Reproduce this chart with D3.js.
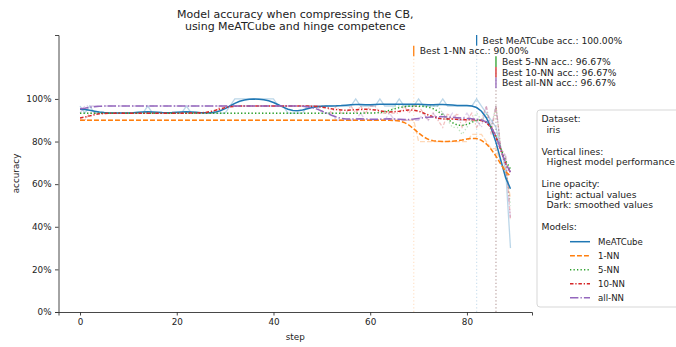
<!DOCTYPE html>
<html><head><meta charset="utf-8">
<script src="https://cdn.jsdelivr.net/npm/d3@7"></script>
<style>body{margin:0;background:#fff} svg{display:block;font-family:"DejaVu Sans",sans-serif}</style>
</head><body><svg id="c" width="676" height="347"></svg>
<script>
// ---------------- data ----------------
const steps = d3.range(0, 90);

const accMeATCube = [
 .9667,.9333,.9667,.9333,.9333,.9333,.9333,.9333,.9333,.9333,
 .9333,.9333,.9333,.9333,.9667,.9333,.9333,.9333,.9333,.9333,
 .9333,.9333,.9667,.9333,.9333,.9333,.9333,.9333,.9333,.9333,
 .9333,.9667,1,1,1,1,1,1,1,1,
 1,.9667,.9667,.9333,.9333,.9333,.9333,.9667,.9667,.9667,
 .9667,.9667,.9667,.9667,.9667,.9667,.9667,1,.9667,.9667,
 .9667,.9667,1,.9667,.9667,.9667,1,.9667,.9667,.9667,
 1,.9667,.9667,.9667,.9667,1,.9667,.9667,.9667,.9667,
 .9667,.9667,1,.9667,.9333,.9,.8667,.7667,.6667,.3
];
const acc1NN = [
 .9,.9,.9,.9,.9,.9,.9,.9,.9,.9,
 .9,.9,.9,.9,.9,.9,.9,.9,.9,.9,
 .9,.9,.9,.9,.9,.9,.9,.9,.9,.9,
 .9,.9,.9,.9,.9,.9,.9,.9,.9,.9,
 .9,.9,.9,.9,.9,.9,.9,.9,.9,.9,
 .9,.9,.9,.9,.9,.9,.9,.9,.9,.9,
 .9,.9,.9,.9,.9,.9,.9,.9,.9,.9,
 .8,.8,.8,.8,.8,.8,.8,.8,.8,.8,
 .8,.8333,.8333,.8333,.8,.7667,.7667,.7,.6667,.5333
];
const acc5NN = [
 .9333,.9333,.9333,.9333,.9333,.9333,.9333,.9333,.9333,.9333,
 .9333,.9333,.9333,.9333,.9333,.9333,.9333,.9333,.9333,.9333,
 .9333,.9333,.9333,.9333,.9333,.9333,.9333,.9333,.9333,.9333,
 .9333,.9333,.9333,.9333,.9333,.9333,.9333,.9333,.9333,.9333,
 .9333,.9333,.9333,.9333,.9333,.9333,.9333,.9333,.9333,.9333,
 .9333,.9333,.9333,.9333,.9333,.9333,.9333,.9333,.9333,.9333,
 .9333,.9333,.9333,.9333,.9333,.9667,.9667,.9667,.9667,.9667,
 .9667,.9667,.9667,.9667,.9667,.9333,.9,.8667,.8667,.8333,
 .8667,.9,.9333,.9,.9333,.8667,.9667,.7667,.7,.5
];
const acc10NN = [
 .9,.9,.9333,.9333,.9333,.9333,.9333,.9333,.9333,.9333,
 .9333,.9333,.9333,.9333,.9333,.9333,.9333,.9333,.9333,.9333,
 .9333,.9333,.9333,.9333,.9333,.9333,.9333,.9333,.9333,.9667,
 .9667,.9667,.9667,.9667,.9667,.9667,.9667,.9667,.9667,.9667,
 .9667,.9667,.9667,.9667,.9667,.9667,.9667,.9667,.9667,.9667,
 .9667,.9667,.9333,.9667,.9333,.9333,.9667,.9333,.9667,.9333,
 .9667,.9667,.9333,.9333,.9333,.9333,.9333,.9667,.9333,.9667,
 .9667,.9333,.9,.9333,.9,.8667,.9333,.9,.9333,.8667,
 .9,.9333,.8667,.9,.9667,.8333,.9667,.7667,.7333,.4333
];
const accAllNN = [
 .9333,.9667,.9667,.9667,.9667,.9667,.9667,.9667,.9667,.9667,
 .9667,.9667,.9667,.9667,.9667,.9667,.9667,.9667,.9667,.9667,
 .9667,.9667,.9667,.9667,.9667,.9667,.9667,.9667,.9667,.9667,
 .9667,.9667,.9667,.9667,.9667,.9667,.9667,.9667,.9667,.9667,
 .9667,.9667,.9667,.9667,.9667,.9667,.9667,.9667,.9667,.9667,
 .9333,.9333,.9333,.9,.9,.9,.9,.9,.9333,.9,
 .9,.9,.9,.9,.9333,.9,.9,.9,.9,.9,
 .9,.9333,.9,.9333,.9,.9333,.9,.9333,.9,.9,
 .9333,.9,.9,.8667,.9667,.8667,.9667,.7667,.7333,.4333
];

const modelNames  = ["MeATCube", "1-NN", "5-NN", "10-NN", "all-NN"];
const modelValues = [accMeATCube, acc1NN, acc5NN, acc10NN, accAllNN];
const modelColors = ["#1f77b4", "#ff7f0e", "#2ca02c", "#d62728", "#9467bd"];
const modelDashes = [null, "4.9,2.1", "1.3,2.2", "3.5,1.8,1.3,1.8", "8.4,2.1,1.3,2.1"];

const xTickValues = [0, 20, 40, 60, 80];
const yTickValues = [0, 0.2, 0.4, 0.6, 0.8, 1.0];
const titleLines = ["Model accuracy when compressing the CB,", "using MeATCube and hinge competence"];
const xLabel = "step";
const yLabel = "accuracy";
const legendInfo = [
  ["Dataset:", 0], ["iris", 1], ["", 0],
  ["Vertical lines:", 0], ["Highest model performance", 1], ["", 0],
  ["Line opacity:", 0], ["Light: actual values", 1], ["Dark: smoothed values", 1], ["", 0],
  ["Models:", 0]
];

// ---------------- helpers ----------------
function gaussianSmooth(arr, sigma) {
  const r = Math.round(4 * sigma), n = arr.length;
  const w = d3.range(-r, r + 1).map(k => Math.exp(-k * k / (2 * sigma * sigma)));
  const ws = d3.sum(w);
  return arr.map((_, i) => {
    let s = 0;
    for (let k = -r; k <= r; k++) {
      let j = i + k;
      if (j < 0) j = -j - 1;
      if (j >= n) j = 2 * n - j - 1;
      s += w[k + r] * arr[j];
    }
    return s / ws;
  });
}

// ---------------- chart ----------------
const svg = d3.select("#c");
const L = 58.5, R = 532, T = 35, B = 312;
const x = d3.scaleLinear().domain([-4.45, 93.45]).range([L, R]);
const y = d3.scaleLinear().domain([0, 1.3]).range([B, T]);
const textColor = "#222";

const line = d3.line().x((d, i) => x(steps[i])).y(d => y(d));

// raw lines
const gRaw = svg.append("g");
modelValues.forEach((vals, m) => {
  gRaw.append("path").attr("d", line(vals)).attr("fill", "none")
    .attr("stroke", modelColors[m]).attr("stroke-opacity", 0.3)
    .attr("stroke-width", 1.3).attr("stroke-dasharray", modelDashes[m]);
});

// vertical best lines + annotations
const gAnn = svg.append("g");
modelValues.forEach((vals, m) => {
  const best = d3.max(vals);
  let bestStep = 0;
  vals.forEach((v, i) => { if (Math.abs(v - best) < 1e-9) bestStep = steps[i]; });
  const top = 1.3 - 0.05 * m, bot = 1.25 - 0.05 * m;
  gAnn.append("line").attr("x1", x(bestStep)).attr("x2", x(bestStep))
    .attr("y1", y(0)).attr("y2", y(bot))
    .attr("stroke", modelColors[m]).attr("stroke-opacity", 0.22)
    .attr("stroke-width", 1.2).attr("stroke-dasharray", "1.3,2.2");
  gAnn.append("line").attr("x1", x(bestStep)).attr("x2", x(bestStep))
    .attr("y1", y(bot)).attr("y2", y(top))
    .attr("stroke", modelColors[m]).attr("stroke-width", 1.3);
  gAnn.append("text").attr("x", x(bestStep) + 6).attr("y", y((top + bot) / 2) + 3.3)
    .attr("font-size", 9.2).attr("fill", textColor)
    .text(`Best ${modelNames[m]} acc.: ${(best * 100).toFixed(2)}%`);
});

// smoothed lines
const gSm = svg.append("g");
modelValues.forEach((vals, m) => {
  gSm.append("path").attr("d", line(gaussianSmooth(vals, 2))).attr("fill", "none")
    .attr("stroke", modelColors[m]).attr("stroke-width", 1.5)
    .attr("stroke-dasharray", modelDashes[m]);
});

// axes
const xAxis = svg.append("g").attr("transform", `translate(0,${B})`)
  .call(d3.axisBottom(x).tickValues(xTickValues).tickSizeOuter(0).tickSize(3.5).tickPadding(3.5));
const yAxis = svg.append("g").attr("transform", `translate(${L},0)`)
  .call(d3.axisLeft(y).tickValues(yTickValues).tickFormat(d3.format(".0%")).tickSizeOuter(0).tickSize(3.5).tickPadding(3.5));
[xAxis, yAxis].forEach(a => {
  a.selectAll("path,line").attr("stroke", "#333").attr("stroke-width", 0.9);
  a.selectAll("text").attr("font-size", 8.8).attr("fill", textColor)
    .attr("font-family", '"DejaVu Sans",sans-serif');
});

// labels
svg.append("text").attr("x", (L + R) / 2).attr("y", 340).attr("text-anchor", "middle")
  .attr("font-size", 8.8).attr("fill", textColor).text(xLabel);
svg.append("text").attr("transform", `translate(19,${(T + B) / 2}) rotate(-90)`)
  .attr("text-anchor", "middle").attr("font-size", 8.8).attr("fill", textColor).text(yLabel);
titleLines.forEach((t, i) => {
  svg.append("text").attr("x", (L + R) / 2).attr("y", 18.3 + i * 11.5).attr("text-anchor", "middle")
    .attr("font-size", 11).attr("fill", textColor).text(t);
});

// legend box
const lg = svg.append("g");
lg.append("rect").attr("x", 537).attr("y", 110).attr("width", 170).attr("height", 197)
  .attr("rx", 3).attr("fill", "#fff").attr("fill-opacity", 0.85)
  .attr("stroke", "#d3d3d3").attr("stroke-width", 0.9);
legendInfo.forEach(([t, indent], i) => {
  if (!t) return;
  lg.append("text").attr("x", 541.5 + indent * 5).attr("y", 119 + i * 10.77 + 3.3)
    .attr("font-size", 9.2).attr("fill", textColor).text(t);
});
modelNames.forEach((name, m) => {
  const cy = 241.7 + m * 14;
  lg.append("line").attr("x1", 570).attr("x2", 590).attr("y1", cy).attr("y2", cy)
    .attr("stroke", modelColors[m]).attr("stroke-width", 1.5)
    .attr("stroke-dasharray", modelDashes[m]);
  lg.append("text").attr("x", 598).attr("y", cy + 3.1).attr("font-size", 8.6)
    .attr("fill", textColor).text(name);
});
</script></body></html>
